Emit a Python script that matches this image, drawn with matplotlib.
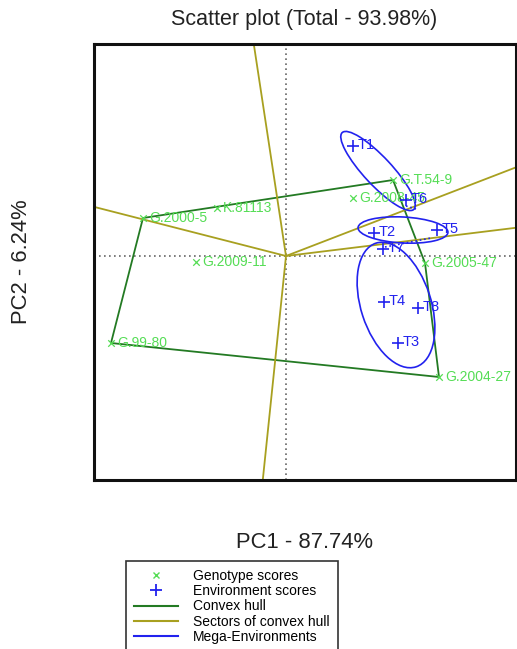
import numpy as np
import matplotlib.pyplot as plt
from matplotlib.patches import Ellipse
from matplotlib.lines import Line2D

plt.rcParams['font.family'] = ['Liberation Sans', 'DejaVu Sans']

# genotype scores (PC1, PC2)
gen_names = ['G.T.54-9', 'G.2008-45', 'K.81113', 'G.2000-5', 'G.2009-11',
             'G.99-80', 'G.2004-27', 'G.2005-47']
gen_pc1 = [1.07, 0.67, -0.69, -1.43, -0.90, -1.75, 1.53, 1.39]
gen_pc2 = [0.76, 0.58, 0.48, 0.38, -0.06, -0.87, -1.21, -0.07]

# environment scores
env_names = ['T1', 'T6', 'T5', 'T2', 'T7', 'T4', 'T8', 'T3']
env_pc1 = [0.67, 1.20, 1.51, 0.88, 0.97, 0.98, 1.32, 1.12]
env_pc2 = [1.10, 0.56, 0.26, 0.23, 0.07, -0.46, -0.52, -0.87]

# convex hull vertices (order)
hull = ['G.2000-5', 'G.T.54-9', 'G.2005-47', 'G.2004-27', 'G.99-80']

# mega-environment ellipses: centre x, centre y, width, height, angle
mega_env = [(0.92, 0.85, 1.05, 0.28, -47),
            (1.17, 0.26, 0.90, 0.26, -3),
            (1.10, -0.49, 0.70, 1.30, 18)]

xlim = (-1.92, 2.30)
ylim = (-2.24, 2.12)

gcol = '#55dd55'
ecol = '#2222ee'
hcol = '#237a23'
scol = '#a8a020'

fig = plt.figure(figsize=(5.17, 6.49), dpi=100)
ax = fig.add_axes([94/517, 1 - 480/649, 422/517, 436/649])
ax.set_xlim(xlim)
ax.set_ylim(ylim)

ax.axhline(0, color='#666666', ls=(0, (1, 2)), lw=1.2, zorder=1)
ax.axvline(0, color='#666666', ls=(0, (1, 2)), lw=1.2, zorder=1)

# convex hull
pos = {n: (x, y) for n, x, y in zip(gen_names, gen_pc1, gen_pc2)}
hx = [pos[n][0] for n in hull] + [pos[hull[0]][0]]
hy = [pos[n][1] for n in hull] + [pos[hull[0]][1]]
ax.plot(hx, hy, color=hcol, lw=1.3, zorder=2)

# sectors: perpendicular from origin to each hull edge, extended to the frame
for i in range(len(hull)):
    p1 = np.array(pos[hull[i]])
    p2 = np.array(pos[hull[(i + 1) % len(hull)]])
    d = p2 - p1
    n = np.array([d[1], -d[0]])
    if np.dot(n, p1) < 0:
        n = -n
    n = n / np.linalg.norm(n)
    t = 10
    ax.plot([0, n[0] * t], [0, n[1] * t], color=scol, lw=1.3, zorder=2)

# mega-environments
for cx, cy, w, h, a in mega_env:
    ax.add_patch(Ellipse((cx, cy), w, h, angle=a, fill=False,
                         edgecolor=ecol, lw=1.2, zorder=3))
ax.plot([1.20, 1.30], [0.50, 0.47], color=ecol, ls=':', lw=1.2)
ax.plot([0.99, 1.45], [0.09, 0.18], color=ecol, ls=':', lw=1.2)

ax.scatter(gen_pc1, gen_pc2, marker='x', color=gcol, s=22, lw=0.9, zorder=4)
for n, x, y in zip(gen_names, gen_pc1, gen_pc2):
    ax.text(x + 0.06, y, n, color=gcol, fontsize=10, va='center', ha='left',
            zorder=4)

ax.scatter(env_pc1, env_pc2, marker='+', color=ecol, s=70, lw=1.2, zorder=5)
for n, x, y in zip(env_names, env_pc1, env_pc2):
    ax.text(x + 0.05, y + 0.01, n, color=ecol, fontsize=10.5, va='center',
            ha='left', zorder=5)

ax.set_xticks([])
ax.set_yticks([])
for sp in ax.spines.values():
    sp.set_linewidth(2.2)
    sp.set_edgecolor('#111111')

fig.text(304/517, 1 - 19/649, 'Scatter plot (Total - 93.98%)', ha='center',
         va='center', fontsize=15.5, color='#222222')
fig.text(305/517, 1 - 542/649, 'PC1 - 87.74%', ha='center', va='center',
         fontsize=15.8, color='#222222')
fig.text(22/517, 1 - 262/649, 'PC2 - 6.24%', ha='center', va='center',
         fontsize=15.8, rotation=90, color='#222222')

handles = [
    Line2D([], [], marker='x', color=gcol, ls='none', markersize=5),
    Line2D([], [], marker='+', color=ecol, ls='none', markersize=8, mew=1.3),
    Line2D([], [], color=hcol, lw=1.5),
    Line2D([], [], color=scol, lw=1.5),
    Line2D([], [], color=ecol, lw=1.5),
]
labels = ['Genotype scores', 'Environment scores', 'Convex hull',
          'Sectors of convex hull', 'Mega-Environments']
leg = fig.legend(handles, labels, loc='upper left',
                 bbox_to_anchor=(126/517, 1 - 561/649), fontsize=10,
                 fancybox=False, edgecolor='#333333', framealpha=1,
                 labelspacing=0.1, handlelength=3.2, handletextpad=1.1,
                 borderpad=0.55, borderaxespad=0)
leg.get_frame().set_linewidth(1.2)

fig.savefig('out.png', dpi=100)
